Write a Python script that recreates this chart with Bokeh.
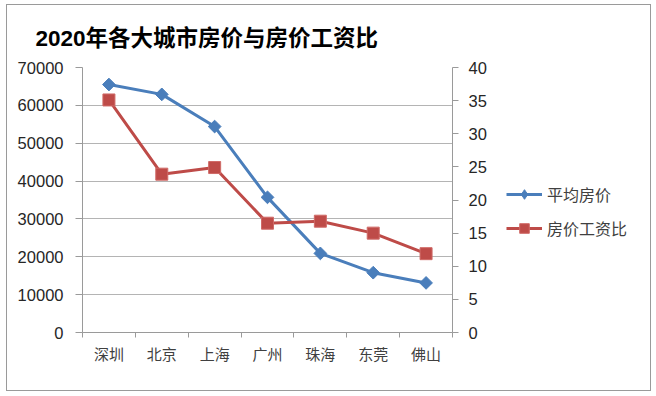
from bokeh.plotting import figure
from bokeh.layouts import row
from bokeh.models import Range1d, LinearAxis, FixedTicker, Legend, LegendItem, ColumnDataSource
from bokeh.embed import file_html
from bokeh.resources import INLINE
import math

# ---- data ----
cities = ['深圳', '北京', '上海', '广州', '珠海', '东莞', '佛山']
avg_price = [65500, 62900, 54400, 35700, 20900, 15800, 13100]
price_income_ratio = [35.1, 23.9, 24.9, 16.5, 16.8, 15.0, 11.9]
left_ticks = [0, 10000, 20000, 30000, 40000, 50000, 60000, 70000]
right_ticks = [0, 5, 10, 15, 20, 25, 30, 35, 40]
title_text = '2020年各大城市房价与房价工资比'
series_names = ['平均房价', '房价工资比']

n = len(cities)
xs = [i + 0.5 for i in range(n)]
src = ColumnDataSource(dict(x=xs, price=avg_price, ratio=price_income_ratio))

BLUE = '#4A7EBB'
RED = '#BE4B48'
RED_EDGE = '#D06A67'
GRID = '#b4b4b4'
AXIS = '#9a9a9a'
TXT = '#262626'
CJK = 'Noto Sans CJK SC'
NUM = 'Liberation Sans'

p = figure(width=485, height=385, output_backend='svg', toolbar_location=None,
           x_range=Range1d(0, n), y_range=Range1d(0, 70000),
           min_border_left=75, min_border_right=40, min_border_top=62, min_border_bottom=58,
           title=title_text)
p.extra_y_ranges = {'ratio': Range1d(0, 40)}
p.outline_line_color = None
p.background_fill_color = 'white'
p.border_fill_color = 'white'

# title
p.title.text_font = "'Liberation Sans', 'Noto Sans CJK SC'"
p.title.text_font_size = '22.5px'
p.title.text_font_style = 'bold'
p.title.text_color = '#000000'
p.title.align = 'left'
p.title.offset = -47
p.title.standoff = 34

# x axis
xa = p.xaxis[0]
xa.ticker = FixedTicker(ticks=xs, minor_ticks=list(range(n + 1)))
xa.major_label_overrides = {x: c for x, c in zip(xs, cities)}
xa.major_tick_out = 0
xa.major_tick_in = 0
xa.minor_tick_out = 5
xa.minor_tick_in = 0
xa.minor_tick_line_color = AXIS
xa.axis_line_color = AXIS
xa.major_label_text_font = CJK
xa.major_label_text_font_size = '15px'
xa.major_label_text_color = '#404040'
xa.major_label_standoff = 5

# left axis
ya = p.yaxis[0]
ya.ticker = FixedTicker(ticks=left_ticks, minor_ticks=[])
ya.major_tick_out = 7
ya.major_tick_in = 0
ya.major_tick_line_color = AXIS
ya.axis_line_color = AXIS
ya.minor_tick_line_color = None
ya.major_label_text_font = NUM
ya.major_label_text_font_size = '16.5px'
ya.major_label_text_color = TXT
ya.major_label_standoff = 12

# right axis
ra = LinearAxis(y_range_name='ratio', ticker=FixedTicker(ticks=right_ticks, minor_ticks=[]))
ra.major_tick_out = 6
ra.major_tick_in = 0
ra.major_tick_line_color = AXIS
ra.axis_line_color = AXIS
ra.major_label_text_font = NUM
ra.major_label_text_font_size = '16.5px'
ra.major_label_text_color = TXT
ra.major_label_standoff = 10
p.add_layout(ra, 'right')

# grid
p.xgrid.grid_line_color = None
p.ygrid.ticker = FixedTicker(ticks=left_ticks)
p.ygrid.grid_line_color = GRID
p.ygrid.grid_line_width = 1

# series
p.line('x', 'price', source=src, line_color=BLUE, line_width=3)
p.scatter('x', 'price', source=src, marker='square', size=9, angle=math.pi / 4,
          fill_color=BLUE, line_color=BLUE, line_width=1)
p.line('x', 'ratio', source=src, y_range_name='ratio', line_color=RED, line_width=3)
p.scatter('x', 'ratio', source=src, y_range_name='ratio', marker='square', size=12,
          fill_color=RED, line_color=RED_EDGE, line_width=1)

# legend panel (separate canvas to the right of the chart); proxies hold no visible data
q = figure(width=158, height=385, output_backend='svg', toolbar_location=None,
           x_range=Range1d(0, 1), y_range=Range1d(0, 1), min_border=0)
q.axis.visible = False
q.grid.visible = False
q.outline_line_color = None
q.border_fill_color = 'white'
q.background_fill_color = 'white'
nan = [math.nan]
ll1 = q.line(x=nan, y=nan, line_color=BLUE, line_width=3)
lm1 = q.scatter(x=nan, y=nan, marker='diamond', size=12, angle=math.pi / 2,
                fill_color=BLUE, line_color=BLUE, line_width=1)
ll2 = q.line(x=nan, y=nan, line_color=RED, line_width=3)
lm2 = q.scatter(x=nan, y=nan, marker='square', size=12,
                fill_color=RED, line_color=RED_EDGE, line_width=1)

legend = Legend(items=[LegendItem(label=series_names[0], renderers=[ll1, lm1]),
                       LegendItem(label=series_names[1], renderers=[ll2, lm2])],
                location=(14, 92))
legend.border_line_color = None
legend.background_fill_color = None
legend.padding = 0
legend.margin = 0
legend.spacing = 10
legend.glyph_width = 36
legend.glyph_height = 24
legend.label_height = 24
legend.label_standoff = 5
legend.label_text_font = CJK
legend.label_text_font_size = '16px'
legend.label_text_color = '#404040'
q.add_layout(legend, 'center')

layout = row(p, q, styles={"border": "1px solid #9a9a9a", "margin": "4px 0px 0px 6px"})

open('out.html', 'w').write(file_html(layout, INLINE))
